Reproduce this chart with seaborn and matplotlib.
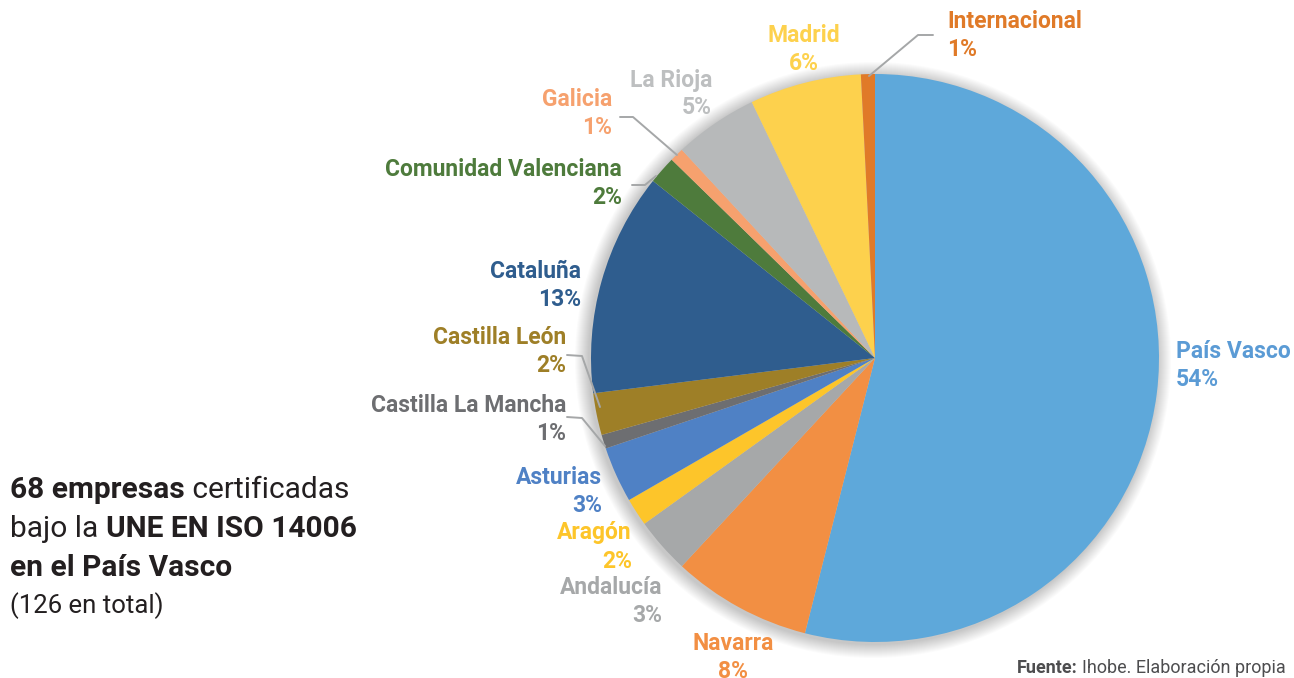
"""
Pie chart: empresas certificadas UNE EN ISO 14006 por comunidad.
"""
import matplotlib.pyplot as plt
from matplotlib.patches import Circle
import seaborn as sns

regions = ["País Vasco", "Navarra", "Andalucía", "Aragón", "Asturias",
           "Castilla La Mancha", "Castilla León", "Cataluña",
           "Comunidad Valenciana", "Galicia", "La Rioja", "Madrid",
           "Internacional"]
companies = [68, 10, 4, 2, 4, 1, 3, 16, 2, 1, 6, 8, 1]

wedge_colors = ["#5EA8DA", "#F28F43", "#A6A8A9", "#FDC52A", "#4F81C5",
                "#6D6E71", "#9E7F27", "#2F5D8E", "#4E7B3C", "#F6A16E",
                "#B7B9BA", "#FDD14D", "#E07A28"]
text_colors = ["#5B9BD5", "#F28F43", "#A6A8A9", "#FDC52A", "#4F81C5",
               "#6D6E71", "#9E7F27", "#2F5D8E", "#4E7B3C", "#F6A16E",
               "#BDBFC0", "#FDD14D", "#E07A28"]

# label anchor (x, y of first line in pixels from top) and alignment
label_pos = [(1176, 351, "left"), (733, 643, "center"), (662, 588, "right"),
             (632, 533, "right"), (602, 478, "right"), (566, 405, "right"),
             (566, 338, "right"), (581, 271, "right"), (622, 170, "right"),
             (612, 100, "right"), (712, 80, "right"), (804, 35, "center"),
             (947, 22, "left")]

W, H = 1294, 678
CX, CY, R = 875, 358, 284

sns.set_theme(style="white")
plt.rcParams["font.family"] = ["Roboto", "DejaVu Sans"]

fig = plt.figure(figsize=(W / 100, H / 100), dpi=100)
ax = fig.add_axes([0, 0, 1, 1])

# soft shadow behind the pie
for i in range(14):
    ax.add_patch(Circle((CX - 2, H - CY - 2), R + 14 - i, color="#000000",
                        alpha=0.014, lw=0, zorder=0))

ax.pie(companies, colors=wedge_colors, startangle=90, counterclock=False,
       center=(CX, H - CY), radius=R, frame=True,
       wedgeprops=dict(linewidth=0, zorder=2))
ax.set_xlim(0, W)
ax.set_ylim(0, H)
ax.set_aspect("equal")
ax.axis("off")

total = sum(companies)
for name, n, (x, y, ha), col in zip(regions, companies, label_pos, text_colors):
    pct = round(100 * n / total)
    ax.text(x, H - y, name, ha=ha, va="center", fontsize=16.5,
            fontweight="bold", color=col)
    ax.text(x, H - y - 28, f"{pct}%", ha=ha, va="center", fontsize=16.5,
            fontweight="bold", color=col)

# leader lines
leaders = [
    [(620, 117), (633, 117), (677, 155)],
    [(632, 185), (645, 185), (656, 176)],
    [(567, 355), (582, 356), (600, 407)],
    [(567, 417), (582, 418), (605, 446)],
    [(933, 35), (918, 35), (869, 76)],
]
for pts in leaders:
    xs = [p[0] for p in pts]
    ys = [H - p[1] for p in pts]
    ax.plot(xs, ys, color="#A5A7A8", lw=1.4, zorder=3)

# left caption, mixing bold and regular runs
fs = 21.5
lines = [
    [("68 empresas", "bold"), (" certificadas", "normal")],
    [("bajo la ", "normal"), ("UNE EN ISO 14006", "bold")],
    [("en el País Vasco", "bold")],
]
ys = [490, 529, 568]
fig.canvas.draw()
inv = ax.transData.inverted()
for parts, y in zip(lines, ys):
    x = 10
    for txt, wt in parts:
        t = ax.text(x, H - y, txt, fontsize=fs, fontweight=wt,
                    color="#231F20", va="center", ha="left")
        bb = t.get_window_extent(renderer=fig.canvas.get_renderer())
        x = inv.transform((bb.x1, 0))[0]
ax.text(10, H - 606, "(126 en total)", fontsize=18.5, color="#231F20",
        va="center", ha="left")

# source
t = ax.text(1017, H - 668, "Fuente:", fontsize=13, fontweight="bold",
            color="#4D4D4F", va="center", ha="left")
bb = t.get_window_extent(renderer=fig.canvas.get_renderer())
x1 = inv.transform((bb.x1, 0))[0]
ax.text(x1 + 4, H - 668, "Ihobe. Elaboración propia", fontsize=13,
        color="#4D4D4F", va="center", ha="left")

fig.savefig("out.png", dpi=100)
